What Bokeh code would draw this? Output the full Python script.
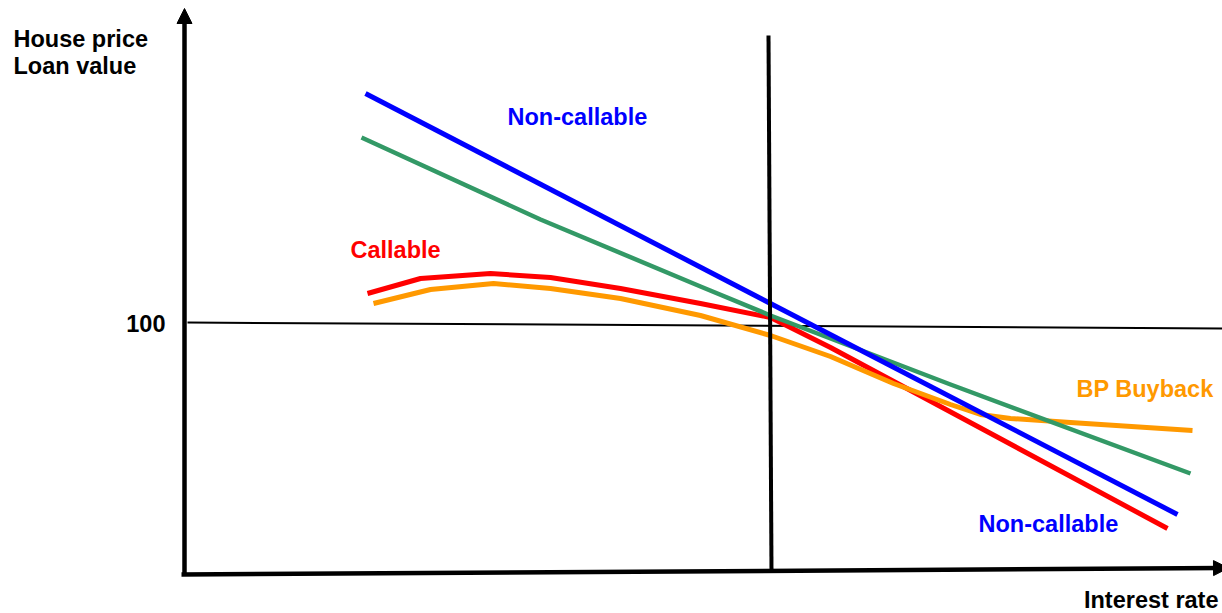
from bokeh.plotting import figure
from bokeh.models import Range1d, Arrow, NormalHead, ColumnDataSource
from bokeh.core.properties import value
from bokeh.embed import file_html
from bokeh.resources import INLINE

# ---- data (interest rate on x, house price / loan value on y; 100 = par) ----
rate_noncallable = [1.81, 9.93]
value_noncallable = [192.4, 24.0]

rate_house = [1.77, 3.56, 5.16, 5.86, 7.66, 10.06]
value_house = [174.8, 142.0, 115.2, 103.6, 76.0, 40.4]

rate_callable = [1.83, 2.36, 3.06, 3.66, 4.36, 5.16, 5.86, 6.46, 9.83]
value_callable = [112.4, 118.4, 120.4, 118.8, 114.4, 108.4, 102.8, 90.8, 18.4]

rate_buyback = [1.89, 2.46, 3.09, 3.66, 4.36, 5.16, 5.86, 6.46, 7.09, 7.66, 7.96, 8.26, 8.86, 10.08]
value_buyback = [108.4, 114.0, 116.4, 114.4, 110.4, 103.6, 95.6, 87.2, 76.4, 68.0, 64.0, 62.4, 60.8, 57.6]

par_rate = [0.03, 10.38]
par_value = [100.8, 98.4]

current_rate = [5.84, 5.87]
current_value = [215.6, 0.8]

label_text = ["House price", "Loan value", "100", "Non-callable", "Callable",
              "BP Buyback", "Non-callable", "Interest rate"]
label_rate = [-1.71, -1.71, -0.19, 3.23, 1.66, 8.92, 7.94, 10.34]
label_value = [214.2, 203.6, 100.6, 183.2, 129.8, 74.2, 20.4, -10.2]
label_color = ["black", "black", "black", "#0000FF", "#FF0000", "#FF9900", "#0000FF", "black"]
label_align = ["left", "left", "right", "left", "left", "left", "left", "right"]

# ---- figure ----
p = figure(width=1222, height=613,
           x_range=Range1d(-1.84, 10.38), y_range=Range1d(-15.6, 229.6),
           x_axis_type=None, y_axis_type=None,
           output_backend="svg", toolbar_location=None, min_border=0)
p.grid.visible = False
p.outline_line_color = None
p.background_fill_color = "white"
p.border_fill_color = "white"

# par (100) line
p.line(par_rate, par_value, line_color="black", line_width=2)

# curves
p.line(rate_callable, value_callable, line_color="#FF0000", line_width=5,
       line_cap="butt", line_join="round")
p.line(rate_buyback, value_buyback, line_color="#FF9900", line_width=5,
       line_cap="butt", line_join="round")
p.line(rate_house, value_house, line_color="#339966", line_width=4.5,
       line_cap="butt", line_join="round")
p.line(rate_noncallable, value_noncallable, line_color="#0000FF", line_width=5,
       line_cap="butt", line_join="round")

# current rate vertical line
p.line(current_rate, current_value, line_color="black", line_width=4)

# axes as arrows
p.add_layout(Arrow(end=NormalHead(size=15, fill_color="black", line_color="black"),
                   x_start=0.0, y_start=-0.4, x_end=0.0, y_end=226.4,
                   line_color="black", line_width=4.5))
p.add_layout(Arrow(end=NormalHead(size=15, fill_color="black", line_color="black"),
                   x_start=-0.03, y_start=0.0, x_end=10.44, y_end=2.6,
                   line_color="black", line_width=4.5))

src = ColumnDataSource(dict(x=label_rate, y=label_value, text=label_text,
                            color=label_color, align=label_align))
p.text(x="x", y="y", text="text", text_color="color", text_align="align",
       text_baseline="middle", text_font=value("Liberation Sans"),
       text_font_style="bold", text_font_size="23.5px", source=src)

open("out.html", "w").write(file_html(p, INLINE))
